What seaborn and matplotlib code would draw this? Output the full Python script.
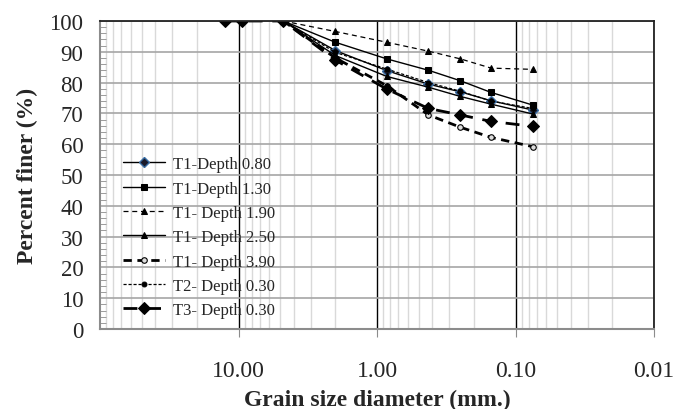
import numpy as np
import pandas as pd
import matplotlib
matplotlib.use("Agg")
import matplotlib.pyplot as plt
from matplotlib.ticker import FixedLocator, NullFormatter, MultipleLocator
import seaborn as sns

# ---- data -------------------------------------------------------------
sizes_t3 = [12.5, 9.5, 4.75, 2.0, 0.85, 0.425, 0.25, 0.15, 0.075]
sizes = [4.75, 2.0, 0.85, 0.425, 0.25, 0.15, 0.075]

t1_080 = [100, 90.4, 83.9, 79.5, 77.0, 74.1, 71.1]
t1_130 = [100, 93.1, 87.7, 84.0, 80.6, 76.8, 72.7]
t1_190 = [100, 96.6, 93.1, 90.2, 87.7, 84.7, 84.3]
t1_250 = [100, 88.8, 82.0, 78.5, 75.5, 73.0, 69.8]
t1_390 = [100, 88.0, 79.0, 69.5, 65.5, 62.2, 59.2]
t2_030 = [100, 89.8, 84.4, 80.0, 77.2, 74.0, 71.6]
t3_030 = [100, 100, 100, 87.3, 77.9, 71.6, 69.5, 67.4, 65.8]

labels = ["T1-Depth 0.80", "T1-Depth 1.30", "T1- Depth 1.90", "T1- Depth 2.50",
          "T1- Depth 3.90", "T2- Depth 0.30", "T3- Depth 0.30"]
xticks = [10, 1, 0.1, 0.01]
xticklabels = ["10.00", "1.00", "0.10", "0.01"]

# ---- style ------------------------------------------------------------
sns.set_style("white")
plt.rcParams["font.family"] = ["Liberation Serif", "DejaVu Serif"]

fig = plt.figure(figsize=(6.91, 4.10), dpi=100)
ax = fig.add_axes([100 / 691, 80 / 410, 554 / 691, 308 / 410])

series = [
    (sizes, t1_080, dict(color="black", lw=1.0, linestyle="-", marker="D", ms=5,
                         mfc="#1a1a2a", mec="#3a6ea5", mew=1.0)),
    (sizes, t1_130, dict(color="black", lw=1.0, linestyle="-", marker="s", ms=5,
                         mfc="black", mec="black")),
    (sizes, t1_190, dict(color="black", lw=0.9, linestyle=(0, (4, 3)), marker="^", ms=5,
                         mfc="black", mec="black")),
    (sizes, t1_250, dict(color="black", lw=1.0, linestyle="-", marker="^", ms=5,
                         mfc="black", mec="black")),
    (sizes, t1_390, dict(color="black", lw=2.0, linestyle=(0, (3, 2)), marker="o", ms=4,
                         mfc="#dddddd", mec="black", mew=0.8)),
    (sizes, t2_030, dict(color="black", lw=0.9, linestyle=(0, (2.5, 1.5)), marker="o", ms=3.5,
                         mfc="black", mec="black")),
    (sizes_t3, t3_030, dict(color="black", lw=2.0, linestyle=(0, (5, 3.5)), marker="D", ms=6,
                            mfc="black", mec="black")),
]

for (xs, ys, kw), lab in zip(series, labels):
    df = pd.DataFrame({"size": xs, "finer": ys})
    sns.lineplot(data=df, x="size", y="finer", ax=ax, label=lab, sort=False,
                 estimator=None, **kw)

ax.set_xscale("log")
ax.set_xlim(100, 0.01)
ax.set_ylim(0, 100)

# grid
ax.xaxis.set_major_locator(FixedLocator(xticks))
minor = [m * 10.0 ** e for e in range(-2, 2) for m in range(2, 10)]
ax.xaxis.set_minor_locator(FixedLocator(minor))
ax.xaxis.set_minor_formatter(NullFormatter())
ax.set_xticks(xticks)
ax.set_xticklabels(xticklabels)
ax.yaxis.set_major_locator(MultipleLocator(10))
ax.yaxis.set_minor_locator(MultipleLocator(2))

ax.grid(which="minor", axis="x", color="#d9d9d9", lw=1.0)
ax.grid(which="major", axis="x", color="black", lw=1.0)
ax.grid(which="major", axis="y", color="#a6a6a6", lw=1.2)
ax.set_axisbelow(True)

for s in ["left", "bottom"]:
    ax.spines[s].set_color("#8c8c8c")
    ax.spines[s].set_linewidth(1.5)
for s in ["top", "right"]:
    ax.spines[s].set_color("#222222")
    ax.spines[s].set_linewidth(1.3)

ax.tick_params(axis="x", which="major", direction="out", length=6, color="#8c8c8c",
               labelsize=17, pad=16)
ax.tick_params(axis="x", which="minor", length=0)
ax.tick_params(axis="y", which="major", direction="out", length=0, labelsize=16.5, pad=12)
ax.tick_params(axis="y", which="minor", direction="in", length=4, color="#8c8c8c", left=True)
ax.tick_params(axis="x", which="major", bottom=True)

ax.set_xlabel("Grain size diameter (mm.)", fontsize=17, fontweight="bold", labelpad=6)
ax.set_ylabel("Percent finer (%)", fontsize=17, fontweight="bold", labelpad=8)

leg = ax.legend(loc="lower left", bbox_to_anchor=(0.042, 0.035), frameon=False,
                fontsize=12, handlelength=2.5, handletextpad=0.5, labelspacing=0.5,
                borderaxespad=0, borderpad=0)

fig.savefig("out.png", dpi=100)
